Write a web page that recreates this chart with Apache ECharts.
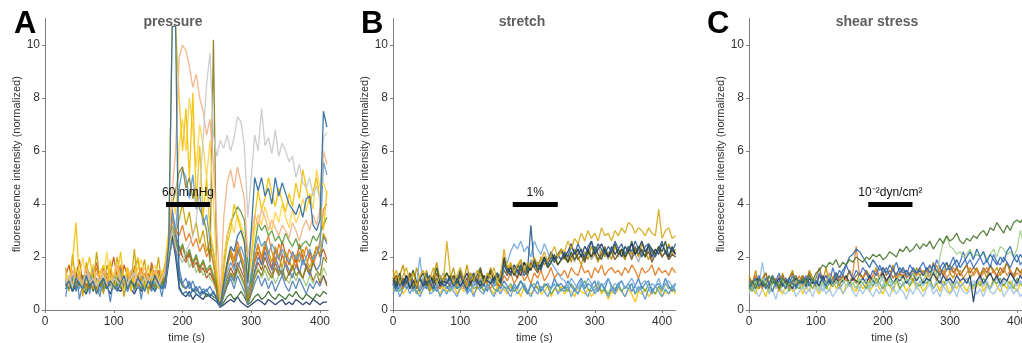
<!DOCTYPE html>
<html>
<head>
<meta charset="utf-8">
<script src="https://cdn.jsdelivr.net/npm/echarts@6/dist/echarts.min.js"></script>
<style>html,body{margin:0;background:#fff}#chart{width:1022px;height:343px}</style>
</head>
<body>
<div id="chart"></div>
<script>
// sample times (s)
const timeA = [30,35,40,45,50,55,60,65,70,75,80,85,90,95,100,105,110,115,120,125,130,135,140,145,150,155,160,165,170,175,
  180,185,190,195,200,205,210,215,220,225,230,235,240,245,250,255,260,265,270,275,280,285,290,295,300,305,310,315,320,325,
  330,335,340,345,350,355,360,365,370,375,380,385,390,395,400,405,410];
const timeBC = [0,5,10,15,20,25,30,35,40,45,50,55,60,65,70,75,80,85,90,95,100,105,110,115,120,125,130,135,140,145,150,155,160,165,
  170,175,180,185,190,195,200,205,210,215,220,225,230,235,240,245,250,255,260,265,270,275,280,285,290,295,300,305,310,315,320,
  325,330,335,340,345,350,355,360,365,370,375,380,385,390,395,400,405,410,415,420];

const yTicks = [0, 2, 4, 6, 8, 10];
const xTicks = [0, 100, 200, 300, 400];
const panelTitles = ['pressure', 'stretch', 'shear stress'];
const panelLetters = ['A', 'B', 'C'];
const stimLabels = ['60 mmHg', '1%', '10\u207B\u00B2dyn/cm\u00B2'];
const stimStart = [176, 178, 178];
const stimEnd = [240, 245, 244];
const stimLevel = 4;

// A: pressure
const pA_navy = [0.8,1.0,0.7,0.9,1.1,0.8,0.6,1.0,0.9,0.7,1.1,0.8,0.9,0.6,1.0,0.8,0.7,0.9,1.1,0.8,0.6,0.9,0.7,1.0,0.8,0.9,0.7,1.0,0.8,0.9,
  1.8,2.8,2.0,0.9,0.6,0.5,0.7,0.4,0.6,0.5,0.4,0.6,0.5,0.4,0.3,0.1,0.2,0.3,0.4,0.3,0.5,0.3,0.2,0.1,0.2,0.3,0.4,0.3,0.2,0.4,0.3,0.2,0.3,0.4,0.2,0.3,0.2,0.4,0.3,0.2,0.3,0.2,0.4,0.3,0.2,0.3,0.3];
const pA_darkgreen = [1.1,0.9,1.2,0.8,1.0,1.3,0.9,1.1,0.7,1.0,1.2,0.9,0.8,1.1,1.0,0.9,1.2,0.8,1.0,1.1,0.9,1.3,1.0,0.8,1.1,0.9,1.2,1.0,0.9,1.1,
  2.0,3.0,2.2,1.2,0.9,0.8,1.0,0.7,0.8,0.6,0.7,0.5,0.6,0.5,0.4,0.1,0.3,0.5,0.6,0.4,0.5,0.7,0.5,0.2,0.3,0.5,0.6,0.4,0.5,0.7,0.5,0.4,0.6,0.5,0.4,0.6,0.5,0.7,0.5,0.4,0.6,0.5,0.4,0.6,0.5,0.7,0.6];
const pA_midblue = [0.5,1.2,0.8,1.5,0.4,1.0,1.3,0.6,1.7,0.9,0.5,1.4,1.1,0.3,1.2,0.8,1.6,0.6,1.0,1.5,0.7,1.2,0.4,1.3,0.9,1.6,0.7,1.1,0.5,1.3,
  1.9,2.6,2.2,1.3,1.0,1.2,0.8,1.1,0.7,0.9,0.6,0.8,0.5,0.7,0.4,0.1,0.5,0.9,1.2,0.8,1.3,1.0,0.7,0.2,0.6,1.0,1.3,0.9,1.2,0.8,1.1,0.7,1.0,1.3,0.9,0.7,1.1,0.8,1.2,0.9,0.6,1.0,0.8,1.1,0.9,1.3,1.0];
const pA_brown = [0.9,1.2,1.0,0.8,1.1,1.3,0.9,1.0,1.2,0.8,1.1,0.9,1.3,1.0,0.8,1.2,1.0,0.9,1.1,1.3,0.8,1.0,1.2,0.9,1.1,0.8,1.0,1.2,1.1,0.9,
  2.2,3.2,2.8,2.4,2.0,1.8,2.1,1.6,1.8,1.4,1.6,1.2,1.4,1.1,0.8,0.2,0.8,1.2,1.6,1.3,1.8,1.5,1.2,0.4,0.9,1.4,1.8,1.5,2.0,1.6,1.3,1.8,1.4,2.1,1.7,1.3,1.6,1.9,1.4,1.2,1.7,1.5,1.1,1.4,1.0,1.3,0.9];
const pA_lightgreen = [1.0,1.3,0.9,1.1,1.5,0.8,1.2,1.0,1.4,1.1,0.9,1.3,1.0,1.2,0.8,1.1,1.4,1.0,0.9,1.2,1.5,1.0,1.1,0.8,1.3,1.2,0.9,1.4,1.1,1.7,
  2.6,3.2,2.5,2.0,1.8,2.2,1.6,1.9,1.4,1.7,1.3,1.5,1.2,1.0,0.7,0.2,0.7,1.1,1.4,1.0,1.5,1.2,0.9,0.3,0.8,1.3,1.6,1.2,1.5,1.1,1.4,1.0,1.3,1.6,1.2,1.0,1.4,1.1,1.5,1.2,0.9,1.3,1.0,1.4,1.1,1.6,1.3];
const pA_rust = [1.3,1.7,0.9,1.2,1.9,1.0,1.5,0.8,1.3,1.8,1.1,1.6,0.9,1.4,2.0,1.2,0.8,1.7,1.3,1.0,1.6,1.9,1.1,1.4,0.8,1.8,1.2,1.5,1.0,1.7,
  2.5,3.0,2.3,2.0,2.4,1.9,2.2,1.7,2.0,1.5,1.8,1.4,1.6,1.2,0.7,0.2,1.1,1.7,2.1,1.6,2.3,1.9,1.4,0.5,1.2,1.8,2.2,1.7,2.4,2.0,1.6,2.3,1.9,2.6,2.1,1.7,2.2,1.8,2.5,2.0,1.6,2.2,1.8,2.4,2.0,2.3,1.9];
const pA_blue = [0.8,1.0,1.2,0.7,1.1,0.9,1.3,0.8,1.0,1.2,0.9,0.7,1.1,1.0,0.8,1.2,0.9,1.1,0.7,1.0,1.3,0.9,0.8,1.1,1.0,0.7,1.2,0.9,1.1,0.8,
  2.3,3.8,3.0,1.6,1.0,0.8,1.1,0.7,0.9,0.6,0.8,0.7,0.9,0.6,0.5,0.1,0.6,1.0,1.3,1.1,1.6,1.9,1.4,0.4,0.9,1.5,2.0,1.7,2.2,1.8,1.5,2.0,1.6,1.3,1.8,1.5,1.2,1.7,1.4,1.9,1.6,1.3,1.8,1.5,1.7,2.8,2.5];
const pA_gold = [1.6,0.7,2.1,1.0,1.4,0.5,1.8,1.2,0.8,2.2,1.1,0.6,1.7,1.3,0.9,2.0,1.2,0.5,1.6,1.0,2.3,0.8,1.4,1.9,0.6,1.5,1.1,2.0,0.9,1.6,
  2.7,3.6,2.9,3.4,4.0,3.2,3.7,2.8,3.3,2.5,3.0,2.2,2.6,1.7,0.8,0.2,1.0,1.6,2.2,1.8,2.4,2.0,1.5,0.3,1.1,1.9,2.4,2.0,2.6,2.2,1.8,2.4,2.0,1.6,2.2,1.9,1.5,2.1,1.8,2.3,1.9,1.6,2.0,2.4,2.1,2.9,2.6];
const pA_orange = [1.2,1.0,1.5,0.9,1.3,1.1,0.8,1.4,1.2,1.6,1.0,1.3,0.9,1.5,1.1,1.3,1.7,1.0,1.2,1.4,0.9,1.3,1.6,1.1,1.4,1.0,1.2,1.5,1.3,1.0,
  2.4,3.4,3.0,2.8,3.2,2.6,2.9,2.4,2.7,2.2,2.5,2.0,2.3,1.8,1.0,0.3,1.2,1.8,2.3,1.9,2.6,2.1,1.7,0.6,1.3,2.0,2.5,1.9,2.4,2.8,2.2,1.8,2.5,2.1,1.7,2.3,2.0,1.6,2.2,1.9,2.4,2.0,1.7,2.1,2.6,3.8,4.0];
const pA_green = [1.0,0.8,1.2,0.9,1.4,1.0,0.7,1.1,1.3,0.9,1.0,1.2,0.8,1.0,1.3,0.9,1.1,0.7,1.2,1.0,0.8,1.1,1.3,0.9,1.0,1.2,0.8,1.1,0.9,1.2,
  2.0,3.0,2.6,2.2,2.5,2.0,2.3,1.8,2.1,1.6,1.9,1.5,1.7,1.3,0.9,0.2,1.8,2.8,3.3,3.6,3.9,3.7,3.4,1.8,1.0,2.4,3.3,3.0,3.2,2.8,3.0,2.6,2.8,2.5,2.9,2.6,2.4,2.7,2.3,2.5,2.6,2.4,2.8,2.6,2.9,3.2,3.5];
const pA_lightblue = [1.1,0.9,1.3,1.0,0.8,1.2,1.0,1.4,0.9,1.1,0.7,1.0,1.2,0.9,1.1,1.3,0.8,1.0,1.2,0.9,1.1,0.8,1.0,1.3,0.9,1.1,1.0,1.2,0.8,1.0,
  2.4,3.6,3.0,4.6,5.3,5.0,4.2,5.1,3.8,4.4,3.2,3.6,2.6,2.2,1.1,0.2,0.8,1.4,1.8,1.5,2.1,2.4,2.0,0.6,1.4,2.3,2.8,2.4,2.6,2.1,2.5,2.2,1.9,2.3,2.0,1.8,2.2,1.9,2.1,1.7,2.0,2.3,1.9,2.1,2.4,5.6,5.1];
const pA_olive = [1.0,1.2,0.8,1.1,0.9,1.3,1.0,0.8,1.2,1.0,0.9,1.1,1.4,0.9,1.0,1.2,0.8,1.1,1.0,1.3,0.9,1.1,0.8,1.0,1.2,1.0,0.9,1.3,1.0,1.2,
  2.6,4.0,4.5,5.2,5.4,4.6,5.0,4.2,4.6,3.8,3.5,3.0,1.8,10.2,0.5,0.2,0.6,1.0,1.4,1.2,1.6,1.3,1.0,0.3,0.7,1.2,1.5,1.3,1.7,1.4,1.2,1.6,1.3,1.5,1.1,1.4,1.7,1.3,1.5,1.2,1.6,1.4,1.8,1.5,1.3,2.0,1.8];
const pA_paleyellow = [1.4,1.1,0.8,1.6,1.2,2.0,1.0,1.3,1.7,0.9,1.5,1.2,2.2,1.0,1.4,1.8,1.1,0.7,1.5,1.3,1.0,1.6,1.9,1.2,0.9,1.4,1.7,1.1,1.5,1.3,
  2.8,4.2,3.6,6.2,7.2,6.0,8.0,6.8,5.4,7.0,6.2,5.0,6.4,4.0,1.5,0.3,2.0,2.8,3.4,2.9,3.6,3.2,2.8,1.0,1.8,3.0,3.6,3.2,3.9,3.4,3.0,3.7,3.3,4.0,3.5,3.1,3.8,3.3,3.6,4.2,3.7,4.4,3.8,5.3,4.6,4.8,4.4];
const pA_yellow = [1.3,1.0,1.8,3.3,1.2,0.9,1.5,2.0,1.1,0.6,1.4,1.7,1.0,1.9,0.8,1.3,2.2,1.0,1.6,0.7,1.4,2.0,1.2,0.9,1.7,1.1,1.5,0.8,1.3,1.8,
  3.0,10.7,10.7,8.0,6.0,7.6,5.0,8.2,4.0,6.2,3.5,5.0,3.0,2.2,1.2,0.3,1.5,2.5,3.0,4.0,3.5,3.0,2.5,1.2,2.0,3.5,4.5,3.8,4.2,5.0,4.4,3.9,4.6,4.1,3.7,4.4,3.9,4.8,4.2,5.3,4.6,4.0,4.5,5.0,4.2,3.0,4.5];
const pA_peach = [1.2,0.9,1.5,1.1,1.3,1.0,1.6,1.2,0.9,1.4,1.1,1.5,1.3,1.0,1.2,1.7,1.1,1.3,0.9,1.5,1.2,1.0,1.4,1.6,1.1,1.3,1.5,1.0,1.2,1.6,
  2.5,4.5,6.0,9.5,10.0,9.8,9.2,8.4,8.9,8.0,7.5,6.6,7.2,5.5,3.0,0.4,3.5,4.8,5.3,4.6,5.4,4.8,4.2,2.0,2.8,3.6,3.2,3.8,3.5,3.0,3.4,3.1,2.8,3.2,3.0,2.7,3.3,3.0,2.6,3.1,3.4,3.0,3.6,3.2,3.8,6.0,5.5];
const pA_gray = [1.0,1.3,0.9,1.2,1.1,0.8,1.4,1.0,1.2,0.9,1.1,1.3,1.0,0.8,1.2,1.1,0.9,1.3,1.0,1.2,1.4,1.1,0.9,1.2,1.0,1.3,1.1,0.9,1.2,1.4,
  2.2,3.0,2.4,2.0,1.8,2.2,2.5,2.8,3.4,4.5,6.5,8.5,9.7,6.6,5.8,6.4,6.1,6.6,6.0,6.5,7.3,7.1,6.2,3.5,5.0,6.6,6.0,7.6,6.2,6.5,5.9,6.8,5.8,6.3,6.0,5.6,5.8,5.0,5.5,4.8,4.6,5.0,4.3,4.7,4.1,6.5,6.7];
const pA_darkblue = [0.9,1.1,0.7,1.2,1.0,0.8,1.3,0.9,1.1,0.6,1.0,1.2,0.8,1.1,0.9,0.7,1.0,1.3,0.8,1.1,0.9,1.2,1.0,0.7,1.1,0.9,1.3,1.0,0.8,1.1,
  2.5,10.7,10.7,0.8,0.6,0.7,0.5,0.8,0.6,0.5,0.7,0.6,0.5,0.7,0.4,0.2,1.0,1.8,2.4,2.2,2.8,3.0,2.6,1.0,3.0,5.0,4.5,5.0,4.3,4.6,4.0,5.0,4.3,4.8,4.4,4.0,3.8,3.6,4.0,3.5,4.2,4.3,3.2,3.0,3.4,7.5,6.9];

// B: stretch
const pB_yellow = [1.2,1.5,1.0,1.3,1.6,1.1,1.4,0.9,1.3,1.5,1.1,1.2,1.6,1.0,1.3,1.1,2.6,
  1.4,1.0,1.3,1.6,1.2,0.9,1.4,1.1,1.5,1.3,1.0,1.4,1.2,1.6,1.1,1.3,2.3,
  1.6,1.8,1.4,1.7,1.9,1.5,1.8,1.6,2.0,1.7,1.9,2.2,1.8,2.1,2.4,2.0,2.3,
  2.2,2.6,2.3,2.7,2.5,2.9,2.6,3.0,2.7,2.9,2.6,3.1,2.8,2.9,2.6,3.0,2.8,
  3.1,2.9,3.3,3.2,2.9,3.1,3.0,2.8,3.1,2.9,2.8,3.8,2.7,3.0,3.1,2.7,2.8];
const pB_darkblue = [1.0,0.8,1.2,0.9,1.1,1.3,0.8,1.0,1.2,0.9,1.4,1.0,0.8,1.1,1.3,0.9,1.0,
  1.2,0.9,1.1,1.3,1.0,0.8,1.2,1.4,1.0,1.1,0.9,1.3,1.2,1.0,1.4,1.1,1.7,
  1.5,1.3,1.6,1.4,1.7,1.3,1.5,3.2,1.6,1.8,1.5,1.9,1.7,2.0,1.8,2.1,1.9,
  2.2,2.0,2.4,2.1,2.5,2.2,2.0,2.4,2.6,2.2,2.5,2.3,2.1,2.4,2.2,2.6,2.3,
  2.5,2.1,2.4,2.2,2.6,2.3,2.0,2.4,2.5,2.2,2.0,2.3,2.6,2.1,2.4,2.2,2.5];
const pB_lightblue = [0.9,1.1,0.8,1.0,1.2,0.9,0.7,1.0,2.0,0.8,1.0,1.3,0.8,1.0,1.1,0.9,1.2,
  1.0,0.8,1.1,0.9,1.2,1.0,0.7,1.1,0.9,1.2,1.0,0.8,1.1,0.9,1.3,1.0,1.6,
  1.8,2.2,2.5,2.3,2.6,2.2,2.4,2.0,2.6,2.3,2.1,2.5,2.2,1.8,1.6,1.4,1.2,
  1.1,0.9,1.2,1.0,0.8,1.1,0.9,1.2,1.0,0.7,1.1,0.9,1.0,1.2,0.8,1.0,0.9,
  1.1,0.8,1.0,1.2,0.9,0.7,1.0,1.1,0.8,1.0,0.9,1.2,0.8,1.0,1.1,0.9,1.0];
const pB_brown = [1.1,1.3,0.9,1.2,1.0,1.4,1.1,0.8,1.2,1.0,1.3,1.1,0.9,1.4,1.0,1.2,1.1,
  0.9,1.3,1.1,1.4,1.0,1.2,0.9,1.3,1.1,1.5,1.0,1.2,1.4,1.1,1.3,1.0,1.5,
  1.3,1.6,1.4,1.2,1.7,1.5,1.3,1.8,1.6,1.4,1.7,1.9,1.6,1.8,2.0,1.7,1.9,
  2.1,1.8,2.0,2.2,1.9,2.1,1.8,2.3,2.0,2.2,1.9,2.1,2.4,2.0,2.2,1.9,2.1,
  2.3,2.0,2.2,1.9,2.4,2.1,2.3,2.0,2.2,1.8,2.1,2.3,2.0,2.2,1.9,2.1,2.0];
const pB_orange = [0.9,1.2,1.0,0.8,1.1,1.3,0.9,1.0,1.2,0.8,1.1,0.9,1.3,1.0,0.8,1.1,1.0,
  1.2,0.9,1.0,1.3,0.8,1.1,1.0,1.2,0.9,1.1,1.3,1.0,0.8,1.2,1.0,0.9,1.3,
  1.1,1.4,1.0,1.2,1.5,1.1,1.3,1.0,1.4,1.2,1.5,1.1,1.3,1.6,1.2,1.4,1.3,
  1.5,1.2,1.6,1.4,1.3,1.7,1.4,1.5,1.2,1.6,1.4,1.7,1.3,1.5,1.6,1.4,1.5,
  1.3,1.6,1.4,1.7,1.5,1.2,1.6,1.4,1.5,1.7,1.3,1.6,1.4,1.5,1.3,1.6,1.4];
const pB_gray = [1.0,1.3,1.1,0.9,1.2,1.0,1.4,1.1,0.8,1.2,1.0,1.3,1.1,0.9,1.2,1.4,1.0,
  1.2,1.0,1.3,1.1,0.9,1.2,1.4,1.0,1.2,1.1,0.9,1.3,1.0,1.2,1.1,1.4,1.6,
  1.4,1.7,1.5,1.3,1.8,1.6,1.4,1.9,1.7,1.5,1.8,2.0,1.7,2.1,1.8,2.0,1.9,
  2.2,1.9,2.1,1.8,2.3,2.0,1.8,2.2,1.9,2.1,2.4,2.0,2.2,1.9,2.3,2.1,2.0,
  2.2,1.9,2.3,2.0,2.1,1.8,2.2,2.0,2.3,1.9,2.1,2.4,2.0,2.2,1.9,2.1,2.0];
const pB_green = [0.8,1.0,0.7,0.9,1.1,0.8,1.0,0.6,0.9,1.1,0.8,1.0,0.7,0.9,0.8,1.0,0.9,
  0.7,1.0,0.8,1.1,0.9,0.7,1.0,0.8,0.9,1.1,0.7,0.9,1.0,0.8,0.7,1.0,0.9,
  0.8,1.0,0.7,0.9,1.1,0.8,0.6,0.9,1.0,0.8,0.7,1.0,0.9,0.6,0.8,1.0,0.7,
  0.9,0.7,1.0,0.8,0.6,0.9,1.1,0.8,0.7,0.9,1.0,0.7,0.8,0.6,0.9,0.8,1.0,
  0.7,0.9,0.8,1.0,0.6,0.8,0.9,0.7,1.0,0.8,0.6,0.9,0.7,1.0,0.8,0.9,0.7];
const pB_blue = [1.0,0.7,0.9,1.2,0.8,1.0,0.9,1.1,0.7,1.0,0.8,1.2,0.9,0.7,1.0,1.1,0.8,
  1.0,1.2,0.8,0.9,1.1,0.7,1.0,0.9,1.2,0.8,1.0,0.7,1.1,0.9,1.0,0.8,1.1,
  0.9,0.7,1.0,0.8,1.1,0.9,0.6,1.0,0.8,1.1,0.7,0.9,1.0,0.8,1.2,0.9,1.0,
  0.8,1.1,0.9,0.7,1.0,1.2,0.8,1.0,0.9,1.1,0.7,1.0,0.8,1.2,0.9,0.7,1.0,
  1.1,0.8,1.0,0.7,0.9,1.2,0.8,1.0,1.1,0.7,0.9,1.0,0.8,1.2,0.9,0.7,1.0];
const pB_paleyellow = [0.7,0.9,1.1,0.6,0.8,1.0,0.7,0.9,0.6,0.8,1.0,0.7,0.9,0.8,0.6,0.9,0.7,
  0.8,1.0,0.6,0.9,0.7,0.8,1.0,0.6,0.8,0.9,0.7,1.0,0.8,0.6,0.9,0.7,0.8,
  0.6,0.9,0.7,0.8,0.5,0.9,0.7,0.6,0.8,0.9,0.6,0.7,0.9,0.5,0.8,0.7,0.9,
  0.6,0.8,0.7,0.5,0.9,0.7,0.6,0.8,0.5,0.7,0.9,0.6,0.8,0.4,0.7,0.6,0.8,
  0.7,0.5,0.8,0.6,0.3,0.7,0.6,0.8,0.5,0.7,0.6,0.9,0.5,0.7,0.6,0.8,0.6];
const pB_navy = [1.1,0.9,1.2,1.0,1.3,0.8,1.1,1.0,1.2,0.9,1.1,1.3,1.0,1.2,0.9,1.1,1.0,
  1.3,1.0,1.2,0.9,1.1,1.4,1.0,1.2,1.1,0.9,1.3,1.1,1.0,1.2,1.4,1.1,2.0,
  1.6,1.4,1.7,1.5,1.3,1.8,1.6,1.5,1.9,1.7,1.6,2.0,1.8,2.2,1.9,2.1,2.3,
  2.0,2.2,2.5,2.1,2.3,2.0,2.4,2.2,2.6,2.1,2.3,2.5,2.2,2.0,2.4,2.1,2.3,
  2.0,2.4,2.2,2.5,2.1,2.3,2.6,2.2,2.4,2.0,2.3,2.1,2.5,2.2,2.0,2.4,2.1];
const pB_gold = [1.5,0.9,1.3,1.7,1.0,1.4,0.8,1.6,1.2,1.0,1.5,0.7,1.3,1.8,1.1,0.9,1.4,
  1.2,1.6,0.9,1.3,1.1,1.7,1.0,1.4,0.8,1.5,1.2,1.0,1.6,1.3,0.9,1.4,1.8,
  1.5,1.7,1.3,1.6,1.9,1.4,1.7,1.5,1.8,1.6,2.0,1.7,1.9,2.1,1.8,2.0,2.2,
  1.9,2.1,1.8,2.3,2.0,1.7,2.2,1.9,2.4,2.1,1.8,2.3,2.0,2.2,1.9,2.4,2.1,
  2.2,1.9,2.4,2.1,2.3,2.0,2.5,2.2,1.9,2.3,2.1,2.4,2.0,2.2,2.5,2.1,2.3];
const pB_skyblue = [0.6,0.9,0.5,0.8,1.0,0.6,0.9,0.7,0.5,0.8,1.0,0.6,0.7,0.9,0.5,0.8,0.6,
  0.9,0.7,0.5,0.8,1.0,0.6,0.8,0.5,0.9,0.7,0.6,1.0,0.7,0.5,0.8,0.6,0.9,
  0.7,0.5,0.9,0.6,0.8,1.0,0.7,0.5,0.8,0.6,0.9,0.7,0.5,0.8,1.0,0.6,0.8,
  0.7,0.9,0.5,0.8,0.6,1.0,0.7,0.5,0.9,0.6,0.8,1.0,0.7,0.5,0.8,0.6,0.9,
  0.7,0.5,0.8,1.0,0.6,0.9,0.7,0.4,0.8,0.6,0.9,0.7,0.5,0.8,0.6,0.9,0.7];
const pB_darkgreen = [1.2,1.0,1.4,0.9,1.3,1.1,1.5,1.0,1.2,1.4,0.9,1.3,1.1,1.6,1.0,1.2,1.4,
  1.1,1.3,1.0,1.5,1.2,0.9,1.4,1.1,1.3,1.6,1.0,1.2,1.5,1.1,1.3,1.0,1.9,
  1.4,1.6,1.3,1.7,1.5,1.8,1.4,1.6,1.9,1.5,1.7,2.0,1.6,1.8,2.1,1.7,1.9,
  2.0,1.8,2.2,1.9,2.1,2.3,1.9,2.2,2.0,2.4,2.1,1.9,2.3,2.0,2.2,2.5,2.1,
  2.3,2.0,2.2,2.6,2.1,2.4,2.2,2.0,2.5,2.3,2.1,2.4,2.2,2.6,2.0,2.3,2.1];

// C: shear stress
const pC_darkgreen = [0.9,1.1,0.8,1.2,1.0,0.9,1.3,1.0,1.1,0.8,1.2,1.0,0.9,1.1,1.3,1.0,1.2,
  1.0,1.3,1.1,1.4,1.5,1.7,1.6,1.8,1.7,1.9,1.6,1.8,1.7,1.9,1.8,2.0,1.9,
  1.8,2.0,1.9,2.1,2.0,2.1,1.9,2.0,2.2,2.1,2.0,2.3,2.2,2.4,2.2,2.3,2.5,
  2.3,2.5,2.4,2.6,2.3,2.5,2.7,2.5,2.8,2.6,2.7,2.9,2.6,2.5,2.7,2.6,2.8,
  2.7,2.9,3.0,2.8,3.1,3.0,3.3,3.1,2.9,3.2,3.0,3.3,3.4,3.3,3.5,3.6,3.5];
const pC_lightgreen = [1.0,0.8,1.1,0.9,1.2,1.0,0.7,1.1,0.9,1.0,1.2,0.8,1.0,0.9,1.1,1.0,0.8,
  1.1,0.9,1.2,1.0,0.8,1.1,1.0,1.3,0.9,1.1,1.0,1.2,0.9,1.1,1.0,0.8,1.2,
  1.0,1.1,0.9,1.2,1.0,1.3,1.1,0.9,1.2,1.0,1.1,1.3,1.0,1.2,1.1,1.4,1.2,
  1.3,1.1,1.4,1.2,1.5,1.3,2.0,2.6,2.8,2.4,2.3,2.1,2.2,2.0,2.1,2.3,2.0,
  2.1,2.0,2.2,1.9,2.1,2.3,2.0,2.4,2.3,2.1,2.2,2.0,2.3,3.0,2.5,2.2,2.4];
const pC_blue = [0.8,1.0,1.2,0.9,1.1,0.8,1.0,1.3,0.9,1.1,1.0,0.8,1.2,1.0,0.9,1.1,1.0,
  1.2,0.9,1.1,1.0,1.3,1.1,0.9,1.2,1.0,1.4,1.2,1.5,1.7,2.0,2.1,2.3,2.2,
  2.0,1.8,1.6,1.9,1.7,1.5,1.6,1.4,1.7,1.5,1.3,1.6,1.4,1.5,1.3,1.6,1.4,
  1.5,1.3,1.6,1.4,1.7,1.5,1.3,1.6,1.8,1.5,1.7,1.9,1.6,1.8,2.0,2.2,1.9,
  2.3,2.0,2.2,1.8,2.1,1.9,1.7,2.0,1.8,2.2,2.4,2.0,1.8,2.1,1.9,2.2,2.0];
const pC_orange = [1.1,0.9,1.3,1.0,0.8,1.2,1.0,1.1,0.9,1.3,1.0,1.2,0.8,1.1,1.0,1.3,0.9,
  1.1,1.0,1.2,0.9,1.3,1.1,1.0,1.4,1.2,1.0,1.3,1.1,1.2,1.0,1.4,2.4,1.3,
  1.2,1.4,1.1,1.3,1.5,1.2,1.4,1.1,1.3,1.6,1.2,1.4,1.3,1.5,1.2,1.4,1.3,
  1.5,1.3,1.6,1.2,1.4,1.7,1.3,1.5,1.2,1.4,1.6,1.3,1.5,1.2,1.4,1.6,1.3,
  1.5,1.2,1.4,1.6,1.3,1.5,1.2,1.4,1.6,1.3,1.5,1.2,1.4,1.3,1.5,1.2,1.4];
const pC_yellow = [0.7,0.9,0.6,1.0,0.8,0.5,0.9,0.7,1.0,0.8,0.6,0.9,1.1,0.7,0.8,1.0,0.6,
  0.9,0.7,1.1,0.8,0.6,1.0,0.9,0.7,1.2,0.8,1.0,0.6,0.9,1.1,0.8,0.7,1.0,
  0.8,1.0,0.7,0.9,1.2,0.8,0.6,1.0,0.9,0.7,1.1,0.8,1.0,0.7,0.9,1.1,0.8,
  1.0,0.7,0.9,1.2,0.8,1.0,0.7,1.1,0.9,0.6,1.0,0.8,1.1,0.9,0.7,1.0,0.8,
  0.9,1.1,0.7,1.0,0.8,1.2,0.9,0.7,1.0,0.8,1.1,0.9,0.7,1.0,0.8,1.1,0.9];
const pC_lightblue = [0.9,1.1,0.8,1.0,1.8,1.0,0.9,1.2,0.8,1.0,1.1,0.9,1.2,0.8,1.0,0.9,1.1,
  0.8,1.0,1.2,0.9,1.1,0.7,1.0,1.3,0.9,1.1,0.8,1.0,1.2,0.9,1.0,1.1,0.8,
  1.0,1.2,0.8,1.1,0.9,1.0,1.3,0.9,1.1,0.8,1.2,1.0,0.9,1.1,1.0,1.2,0.9,
  1.1,0.9,1.2,1.0,0.8,1.1,1.3,0.9,1.0,1.2,0.8,1.1,0.9,1.0,1.2,0.9,1.1,
  1.0,1.2,0.9,1.1,0.8,1.0,1.2,0.9,1.1,1.0,0.8,1.2,0.9,1.1,1.0,1.2,0.9];
const pC_navy = [1.0,0.8,1.1,1.2,0.9,1.0,0.8,1.1,1.0,1.2,0.9,1.1,1.0,0.8,1.2,1.0,1.1,
  0.9,1.2,1.0,1.1,0.9,1.3,1.0,1.1,0.9,1.2,1.0,1.1,1.3,1.0,1.2,1.1,1.0,
  1.2,1.0,1.3,1.1,1.0,1.2,1.4,1.1,1.3,1.0,1.2,1.1,1.3,1.0,1.2,1.4,1.1,
  1.3,1.0,1.2,1.1,1.4,1.2,1.0,1.3,1.1,1.2,1.0,1.3,1.1,1.2,1.0,1.3,0.3,
  1.1,1.3,1.0,1.2,1.4,1.1,1.3,1.0,1.2,1.1,1.4,1.2,1.0,1.3,1.1,1.2,1.0];
const pC_brown = [1.2,1.0,1.3,0.9,1.1,1.4,1.0,1.2,1.1,0.9,1.3,1.0,1.2,1.4,1.1,1.0,1.3,
  1.1,1.4,1.0,1.2,1.6,1.1,1.3,1.0,1.2,1.4,1.1,1.3,1.2,1.5,1.1,1.3,1.4,
  1.2,1.5,1.3,1.1,1.4,1.2,1.6,1.3,1.5,1.2,1.4,1.3,1.6,1.2,1.4,1.5,1.3,
  1.6,1.3,1.5,1.2,1.8,1.4,1.6,1.3,1.5,1.7,1.4,1.6,1.3,1.5,1.7,1.4,1.6,
  1.5,1.3,1.6,1.4,1.7,1.5,1.3,1.6,1.4,1.8,1.5,1.3,1.6,1.4,1.5,1.7,1.4];
const pC_green = [0.9,0.7,1.0,0.8,1.1,0.9,0.7,1.0,1.2,0.8,0.9,1.1,0.7,1.0,0.9,0.8,1.1,
  0.9,1.0,0.8,1.1,0.9,1.2,0.8,1.0,0.9,1.1,0.8,1.0,1.2,0.9,1.0,0.8,1.1,
  1.0,0.8,1.1,0.9,1.2,1.0,0.8,1.1,0.9,1.0,1.2,0.8,1.0,1.1,0.9,1.2,1.0,
  0.9,1.1,1.0,1.2,0.8,1.0,1.1,0.9,1.2,1.0,0.8,1.1,0.9,1.0,1.2,1.0,0.9,
  1.1,0.9,1.2,1.0,0.8,1.1,1.0,1.2,0.9,1.1,1.0,0.8,1.2,1.0,0.9,1.1,1.0];
const pC_gold = [1.3,1.0,1.5,0.8,1.2,1.4,0.9,1.3,1.1,0.7,1.4,1.0,1.2,1.5,0.9,1.1,1.3,
  1.0,1.5,1.2,0.9,1.3,1.1,1.6,1.0,1.2,1.4,0.9,1.3,1.1,1.5,1.2,1.0,1.4,
  1.2,1.5,1.1,1.3,1.6,1.2,1.4,1.0,1.3,1.7,1.1,1.4,1.2,1.5,1.3,1.1,1.6,
  1.3,1.5,1.2,1.7,1.4,1.1,1.5,1.3,1.8,1.4,1.2,1.6,1.3,1.5,1.7,1.2,1.4,
  1.6,1.3,1.5,1.2,1.7,1.4,1.6,1.3,1.5,1.8,1.4,1.2,1.6,1.4,1.7,1.3,1.5];
const pC_paleblue = [0.6,0.9,0.7,0.5,0.8,1.0,0.6,0.8,0.4,0.9,0.7,0.6,0.8,1.0,0.5,0.7,0.9,
  0.6,0.8,0.5,0.9,0.7,1.0,0.6,0.8,0.5,0.7,0.9,0.6,0.8,1.0,0.7,0.5,0.8,
  0.6,0.9,0.7,0.5,0.8,0.6,1.0,0.7,0.5,0.9,0.6,0.8,0.7,0.4,0.8,0.6,0.9,
  0.7,0.5,0.8,1.0,0.6,0.8,0.5,0.9,0.7,0.6,0.8,0.5,0.9,0.7,0.6,0.8,1.0,
  0.6,0.8,0.5,0.9,0.7,0.6,0.8,1.0,0.5,0.7,0.9,0.6,0.8,0.5,0.7,0.9,0.6];
const pC_midblue = [1.1,0.8,1.0,1.3,0.9,1.2,1.0,0.7,1.1,1.4,0.9,1.2,1.0,1.3,0.8,1.1,1.0,
  1.3,1.0,1.2,0.9,1.4,1.1,1.3,1.0,1.6,1.2,1.5,1.3,1.7,1.4,1.2,1.5,1.3,
  1.6,1.4,1.2,1.5,1.3,1.7,1.4,1.6,1.3,1.5,1.8,1.4,1.6,1.3,1.7,1.5,1.4,
  1.6,1.8,1.5,1.7,1.4,1.9,1.6,1.8,1.5,1.7,2.0,1.6,1.8,2.2,1.7,1.9,1.6,
  1.8,2.0,1.7,1.9,1.6,2.1,1.8,1.7,2.0,1.8,1.6,1.9,2.1,1.7,1.9,1.8,2.0];

const tracesA = [
  ['#203864', pA_navy], ['#3d6b2a', pA_darkgreen], ['#4f81bd', pA_midblue], ['#9c5a24', pA_brown],
  ['#9dc77b', pA_lightgreen], ['#c55a11', pA_rust], ['#4a7cc0', pA_blue], ['#c8a000', pA_gold],
  ['#e57c23', pA_orange], ['#5b9a3c', pA_green], ['#5b9bd5', pA_lightblue], ['#8a7d1c', pA_olive],
  ['#ffd24a', pA_paleyellow], ['#f2c000', pA_yellow], ['#f4b183', pA_peach], ['#c9c9c9', pA_gray],
  ['#2f6c9c', pA_darkblue]
];
const tracesB = [
  ['#ffc000', pB_paleyellow], ['#6aa84f', pB_green], ['#3f7fc4', pB_blue], ['#5b9bd5', pB_skyblue],
  ['#e57c23', pB_orange], ['#a6a6a6', pB_gray], ['#bf9000', pB_gold], ['#7a5526', pB_brown],
  ['#73a9dc', pB_lightblue], ['#375623', pB_darkgreen], ['#1f3a60', pB_navy], ['#2d5f8f', pB_darkblue],
  ['#d6aa1c', pB_yellow]
];
const tracesC = [
  ['#f2c200', pC_yellow], ['#9dc3e6', pC_paleblue], ['#6aa84f', pC_green], ['#8fbce6', pC_lightblue],
  ['#bf9000', pC_gold], ['#9a6a2a', pC_brown], ['#e5813a', pC_orange], ['#4472c4', pC_midblue],
  ['#24406b', pC_navy], ['#a3cf8a', pC_lightgreen], ['#2f6da8', pC_blue], ['#4f7a32', pC_darkgreen]
];

const chart = echarts.init(document.getElementById('chart'));

// fixed plot boxes; panel C runs past the right edge like the source figure
const grids = [
  { left: 45, top: 18.5, width: 283.25, height: 291.5, outerBoundsMode: 'none' },
  { left: 393, top: 18.5, width: 282.5, height: 291.5, outerBoundsMode: 'none' },
  { left: 749, top: 18.5, width: 281.4, height: 291.5, outerBoundsMode: 'none' }
];
const xMax = [412, 420, 420];
const axisColor = '#808080';

function lineSeries(gi, times, list) {
  return list.map(([color, vals]) => ({
    type: 'line',
    xAxisIndex: gi,
    yAxisIndex: gi,
    data: vals.map((v, i) => [times[i], v]),
    symbol: 'none',
    silent: true,
    lineStyle: { width: 1.3, color: color, opacity: 0.92 },
    itemStyle: { color: color },
    z: 2
  }));
}

function stimSeries(gi) {
  return {
    type: 'line',
    xAxisIndex: gi,
    yAxisIndex: gi,
    data: [],
    silent: true,
    z: 5,
    markLine: {
      silent: true,
      symbol: ['none', 'none'],
      animation: false,
      lineStyle: { color: '#000', width: 5, type: 'solid' },
      label: {
        show: true,
        position: 'insideMiddleTop',
        distance: 5,
        formatter: stimLabels[gi],
        color: '#111',
        fontSize: 12
      },
      data: [[{ coord: [stimStart[gi], stimLevel] }, { coord: [stimEnd[gi], stimLevel] }]]
    }
  };
}

const letterFont = 'bold 31px "Liberation Sans"';
const titleFont = 'bold 14px "Liberation Sans"';

const option = {
  animation: false,
  backgroundColor: '#fff',
  textStyle: { fontFamily: 'Liberation Sans, Arial, sans-serif' },
  grid: grids,
  xAxis: grids.map((g, i) => ({
    type: 'value',
    gridIndex: i,
    min: 0,
    max: xMax[i],
    axisLine: { show: true, lineStyle: { color: axisColor, width: 1 } },
    axisTick: { show: true, length: 3, customValues: xTicks, lineStyle: { color: axisColor } },
    axisLabel: { customValues: xTicks, color: '#333', fontSize: 12, margin: 6 },
    splitLine: { show: false },
    name: 'time (s)',
    nameLocation: 'middle',
    nameGap: 22,
    nameTextStyle: { color: '#333', fontSize: 11 }
  })),
  yAxis: grids.map((g, i) => ({
    type: 'value',
    gridIndex: i,
    min: 0,
    max: 11,
    axisLine: { show: true, lineStyle: { color: axisColor, width: 1 } },
    axisTick: { show: true, length: 3, customValues: yTicks, lineStyle: { color: axisColor } },
    axisLabel: { customValues: yTicks, color: '#333', fontSize: 12, margin: 5 },
    splitLine: { show: false },
    name: 'fluoresecence intensity (normalized)',
    nameLocation: 'middle',
    nameGap: 23,
    nameTextStyle: { color: '#333', fontSize: 11 }
  })),
  graphic: [
    { type: 'text', x: 14, y: 9, style: { text: panelLetters[0], font: letterFont, fill: '#000' } },
    { type: 'text', x: 361, y: 9, style: { text: panelLetters[1], font: letterFont, fill: '#000' } },
    { type: 'text', x: 707, y: 9, style: { text: panelLetters[2], font: letterFont, fill: '#000' } },
    { type: 'text', x: 173, y: 22, style: { text: panelTitles[0], font: titleFont, fill: '#5e5e5e', align: 'center', verticalAlign: 'middle' } },
    { type: 'text', x: 522, y: 22, style: { text: panelTitles[1], font: titleFont, fill: '#5e5e5e', align: 'center', verticalAlign: 'middle' } },
    { type: 'text', x: 877, y: 22, style: { text: panelTitles[2], font: titleFont, fill: '#5e5e5e', align: 'center', verticalAlign: 'middle' } }
  ],
  series: [].concat(
    lineSeries(0, timeA, tracesA),
    lineSeries(1, timeBC, tracesB),
    lineSeries(2, timeBC, tracesC),
    [stimSeries(0), stimSeries(1), stimSeries(2)]
  )
};

chart.setOption(option);
</script>
</body>
</html>
